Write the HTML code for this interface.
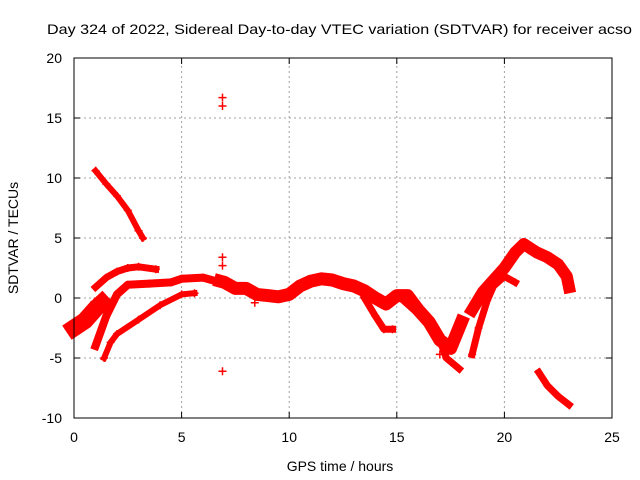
<!DOCTYPE html>
<html><head><meta charset="utf-8"><style>
body{margin:0;background:#fff}
svg{display:block;font-family:"Liberation Sans",sans-serif}
</style></head><body>
<svg id="chart" width="640" height="480" viewBox="0 0 640 480">
<rect x="0" y="0" width="640" height="480" fill="#fff"/>
<text x="47" y="34" font-size="14" textLength="585" lengthAdjust="spacingAndGlyphs">Day 324 of 2022, Sidereal Day-to-day VTEC variation (SDTVAR) for receiver acso</text>
<g id="grid"></g>
<g id="series"></g>
<g id="axes"></g>
<text x="340" y="471" font-size="14" text-anchor="middle">GPS time / hours</text>
<text transform="translate(18,238) rotate(-90)" font-size="14" text-anchor="middle">SDTVAR / TECUs</text>
</svg>
<script>
const xTicks=[0,5,10,15,20,25];
const yTicks=[-10,-5,0,5,10,15,20];
// tracks: hours and SDTVAR values
const trackAHours=[1.0,1.5,2.0,2.5,3.0,3.2];
const trackAValues=[10.6,9.5,8.5,7.3,5.6,5.0];
const trackBHours=[1.0,1.5,2.0,2.5,3.0,3.8];
const trackBValues=[0.9,1.7,2.2,2.5,2.6,2.4];
const trackCHours=[1.0,1.5,2.0,2.5,3.5,4.5,5.0,6.0,6.8];
const trackCValues=[-4.0,-1.5,0.3,1.1,1.2,1.3,1.6,1.7,1.3];
const trackDHours=[1.4,1.7,2.0,3.0,4.0,5.0,5.6];
const trackDValues=[-5.0,-3.7,-3.0,-1.8,-0.6,0.3,0.4];
const trackEHours=[0.0,0.5,1.0,1.3];
const trackEValues=[-2.5,-1.9,-0.9,-0.4];
const trackFHours=[6.8,7.0,7.5,8.0,8.5,9.0,9.5,10.0,10.5,11.0,11.5,12.0,12.5,13.0,13.5,14.0,14.5,15.0,15.5,16.0,16.5,17.0,17.5,18.0];
const trackFValues=[1.4,1.3,0.8,0.8,0.3,0.2,0.1,0.3,1.0,1.4,1.6,1.5,1.2,1.0,0.6,0.0,-0.5,0.2,0.2,-1.0,-2.0,-3.5,-4.2,-2.0];
const trackGHours=[13.5,14.0,14.4,14.8];
const trackGValues=[0.0,-1.5,-2.6,-2.6];
const trackHHours=[15.3,16.3,17.0,17.3,17.9];
const trackHValues=[-0.2,-1.8,-3.5,-5.0,-5.9];
const trackIHours=[18.5,19.0,19.5,20.0,20.5,20.9,21.5,22.0,22.5,22.9,23.0];
const trackIValues=[-1.0,0.5,1.5,2.5,3.8,4.5,3.8,3.4,2.8,1.8,0.9];
const trackJHours=[18.5,18.8,19.2,19.5,20.0,20.5];
const trackJValues=[-4.7,-2.5,-0.2,1.0,1.8,1.3];
const trackKHours=[21.6,22.0,22.5,23.0];
const trackKValues=[-6.2,-7.3,-8.2,-8.9];
const outlierHours=[6.9,6.9,6.9,6.9,6.9,0.95,8.4,16.3,17.0];
const outlierValues=[16.7,16.0,3.4,2.7,-6.1,-0.3,-0.4,-1.3,-4.7];

const X0=74,X1=612,Y0=418,Y1=58;
const sx=h=>X0+(h-0)/(25-0)*(X1-X0);
const sy=v=>Y0-(v+10)/(30)*(Y0-Y1);
const NS='http://www.w3.org/2000/svg';
const grid=document.getElementById('grid'),axes=document.getElementById('axes'),series=document.getElementById('series');
function mk(tag,attrs,parent){const e=document.createElementNS(NS,tag);for(const k in attrs)e.setAttribute(k,attrs[k]);parent.appendChild(e);return e;}
xTicks.forEach(t=>{
  if(t>0&&t<25){const l=mk('line',{x1:sx(t),x2:sx(t),y1:Y0,y2:Y1,stroke:'#a0a0a0','stroke-dasharray':'2,3'},grid);
  
  }
  mk('line',{x1:sx(t),x2:sx(t),y1:Y0,y2:Y0-6,stroke:'#000'},axes);
  mk('line',{x1:sx(t),x2:sx(t),y1:Y1,y2:Y1+6,stroke:'#000'},axes);
  const tx=mk('text',{x:sx(t),y:Y0+24,'font-size':14,'text-anchor':'middle'},axes);tx.textContent=t;
  
  
});
yTicks.forEach(t=>{
  if(t>-10&&t<20){const l=mk('line',{x1:X0,x2:X1,y1:sy(t),y2:sy(t),stroke:'#a0a0a0','stroke-dasharray':'2,3'},grid);
  
  }
  mk('line',{x1:X0,x2:X0+6,y1:sy(t),y2:sy(t),stroke:'#000'},axes);
  mk('line',{x1:X1,x2:X1-6,y1:sy(t),y2:sy(t),stroke:'#000'},axes);
  const tx=mk('text',{x:X0-12,y:sy(t)+5,'font-size':14,'text-anchor':'end'},axes);tx.textContent=t;
  
  
});
const box=mk('rect',{x:X0,y:Y1,width:X1-X0,height:Y0-Y1,fill:'none',stroke:'#000','stroke-width':1},axes);


const tracks=[[trackAHours,trackAValues,6,'track-a'],[trackBHours,trackBValues,7,'track-b'],[trackCHours,trackCValues,8,'track-c'],[trackDHours,trackDValues,6,'track-d'],[trackEHours,trackEValues,17,'track-e'],[trackFHours,trackFValues,13,'track-f'],[trackGHours,trackGValues,7,'track-g'],[trackHHours,trackHValues,7,'track-h'],[trackIHours,trackIValues,12,'track-i'],[trackJHours,trackJValues,7,'track-j'],[trackKHours,trackKValues,7,'track-k']];
tracks.forEach(([hs,vs,w,name])=>{
  const d=hs.map((h,i)=>(i?'L':'M')+sx(h).toFixed(1)+','+sy(vs[i]).toFixed(1)).join('');
  const p=mk('path',{d:d,fill:'none',stroke:'#ff0000','stroke-width':w,'stroke-linejoin':'round','stroke-linecap':'square'},series);
  
  
  hs.forEach((h,i)=>{const c=mk('path',{d:`M${sx(h)-4},${sy(vs[i])}h8M${sx(h)},${sy(vs[i])-4}v8`,stroke:'#ff0000','stroke-width':1.5},series);
  
  });
});
outlierHours.forEach((h,i)=>{
  const c=mk('path',{d:`M${sx(h)-4},${sy(outlierValues[i])}h8M${sx(h)},${sy(outlierValues[i])-4}v8`,stroke:'#ff0000','stroke-width':1.5},series);
  
  
});
</script>
</body></html>
